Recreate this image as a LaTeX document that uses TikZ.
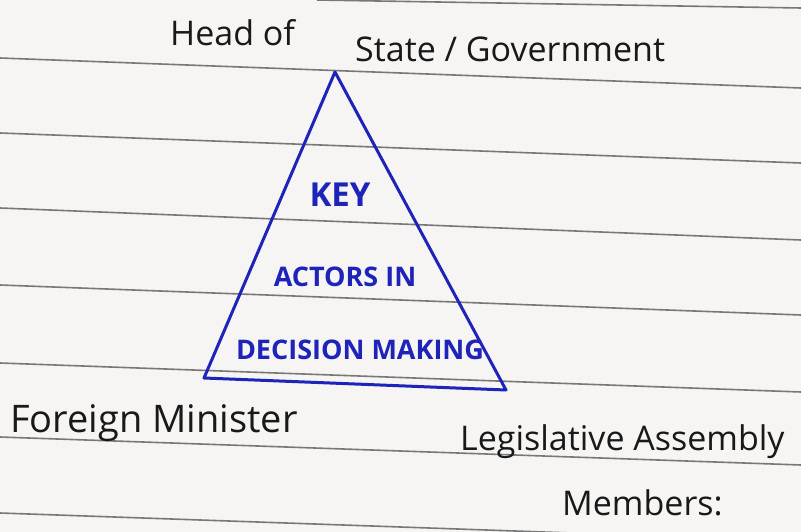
\documentclass[tikz,border=0pt]{standalone}
\usepackage{fontspec}
\setmainfont{Open Sans}
\begin{document}
\begin{tikzpicture}[x=1pt,y=-1pt]
  \definecolor{paper}{RGB}{246,245,243}
  \definecolor{rule}{RGB}{120,120,120}
  \definecolor{ink}{RGB}{25,25,25}
  \definecolor{pen}{RGB}{30,35,185}
  \tikzset{
    ruleline/.style={draw=rule, line width=1.6pt},
    hand/.style={text=ink, inner sep=0pt, font=\fontsize{34}{38}\selectfont},
    penlabel/.style={text=pen, inner sep=0pt, font=\fontsize{27}{30}\selectfont\bfseries},
    tri/.style={draw=pen, line width=3pt, line join=round}
  }
  % notebook page
  \fill[paper] (0,0) rectangle (801,532);
  \useasboundingbox (0,0) rectangle (801,532);
  % ruled lines, slightly tilted
  \draw[ruleline] (317,0) -- (801,8);
  \draw[ruleline] (0,58) -- (801,88);
  \draw[ruleline] (0,133) -- (801,163);
  \draw[ruleline] (0,208) -- (801,240);
  \draw[ruleline] (0,285) -- (801,315);
  \draw[ruleline] (0,363) -- (801,392);
  \draw[ruleline] (0,437) -- (801,465);
  \draw[ruleline] (0,513) -- (801,541);
  % triangle of key actors
  \coordinate (apex) at (335,72);
  \coordinate (bl) at (204,378);
  \coordinate (br) at (506,390);
  \draw[tri] (apex) -- (bl) -- (br) -- cycle;
  \node[penlabel, font=\fontsize{33}{36}\selectfont\bfseries] (key) at (340,195) {KEY};
  \node[penlabel] (actors) at (345,277) {ACTORS IN};
  \node[penlabel] (decision) at (360,350) {DECISION MAKING};
  % the three actors
  \node[hand, anchor=base west] (head) at (170,46) {Head of};
  \node[hand, anchor=base west] (state) at (355,62) {State / Government};
  \node[hand, anchor=base west, font=\fontsize{38}{42}\selectfont] (foreign) at (10,432) {Foreign Minister};
  \node[hand, anchor=base west] (legis) at (460,450) {Legislative Assembly};
  \node[hand, anchor=base west] (members) at (562,515) {Members:};
\end{tikzpicture}
\end{document}
